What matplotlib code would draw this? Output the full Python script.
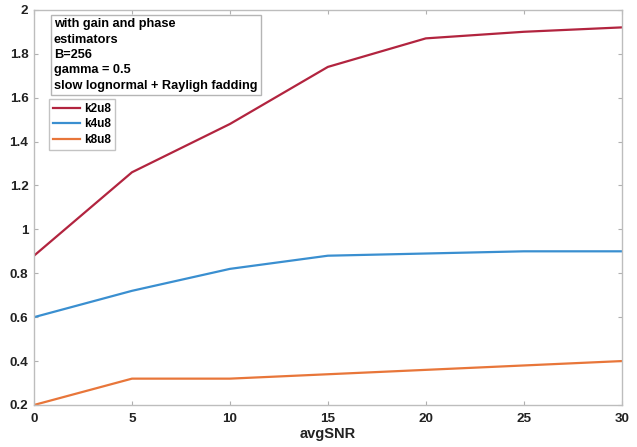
import numpy as np
import matplotlib as mpl
mpl.use('Agg')
import matplotlib.pyplot as plt

# Data
snr = [0, 5, 10, 15, 20, 25, 30]
k2u8 = [0.88, 1.26, 1.48, 1.74, 1.87, 1.90, 1.92]
k4u8 = [0.60, 0.72, 0.82, 0.88, 0.89, 0.90, 0.90]
k8u8 = [0.20, 0.32, 0.32, 0.34, 0.36, 0.38, 0.40]

xticks = [0, 5, 10, 15, 20, 25, 30]
yticks = [0.2, 0.4, 0.6, 0.8, 1.0, 1.2, 1.4, 1.6, 1.8, 2.0]
ylabels = ['0.2', '0.4', '0.6', '0.8', '1', '1.2', '1.4', '1.6', '1.8', '2']

plt.rcParams['font.family'] = ['Liberation Sans', 'DejaVu Sans']
plt.rcParams['font.weight'] = 'bold'

fig = plt.figure(figsize=(6.37, 4.47), dpi=100)
ax = fig.add_axes([0.0534, 0.094, 0.9226, 0.884])

ax.plot(snr, k2u8, color='#B2243F', linewidth=1.6, label='k2u8')
ax.plot(snr, k4u8, color='#3A8FD0', linewidth=1.6, label='k4u8')
ax.plot(snr, k8u8, color='#E8763A', linewidth=1.6, label='k8u8')

ax.set_xlim(0, 30)
ax.set_ylim(0.2, 2.0)
ax.set_xticks(xticks)
ax.set_yticks(yticks)
ax.set_yticklabels(ylabels)
ax.tick_params(direction='in', length=3, width=0.8, color='#b0b0b0',
               top=True, right=True, labelsize=9.7, labelcolor='#222222')
ax.tick_params(axis='x', pad=6)
ax.tick_params(axis='y', pad=4)
for s in ax.spines.values():
    s.set_color('#bdbdbd')
    s.set_linewidth(1.0)

ax.set_xlabel('avgSNR', fontsize=10.5, fontweight='bold', color='#222222', labelpad=1)

ax.text(0.034, 0.979,
        'with gain and phase\nestimators\nB=256\ngamma = 0.5\nslow lognormal + Rayligh fadding',
        transform=ax.transAxes, fontsize=9.2, fontweight='bold', va='top', ha='left',
        linespacing=1.38,
        bbox=dict(boxstyle='square,pad=0.25', facecolor='white', edgecolor='#b5b5b5', linewidth=1.0))

leg = ax.legend(loc='upper left', bbox_to_anchor=(0.0255, 0.775), fontsize=8.5,
                frameon=True, fancybox=False, handlelength=2.3, handletextpad=0.3,
                borderpad=0.35, labelspacing=0.3, borderaxespad=0)
leg.get_frame().set_edgecolor('#b5b5b5')
leg.get_frame().set_linewidth(1.0)

fig.savefig('out.png', dpi=100)
